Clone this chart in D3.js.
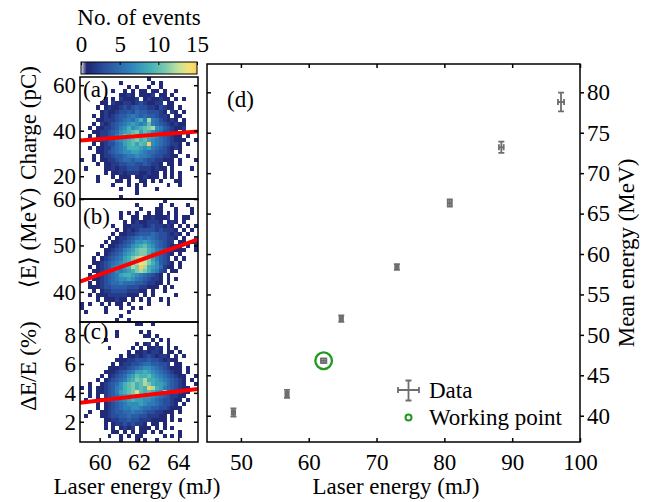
<!DOCTYPE html>
<html lang="en">
<head>
<meta charset="utf-8">
<title>Laser energy scan</title>
<script src="https://d3js.org/d3.v7.min.js"></script>
<style>
  body { margin: 0; background: #fff; }
  svg text { font-family: "Liberation Serif", "Times New Roman", Times, "DejaVu Serif", serif !important; }
</style>
</head>
<body>
<script>
// 2D histograms, 30 x 30 bins, top row first; '.' = 0, hex digit = count
const gridCharge = [
  ".......... .......1.. ..........",
  ".......... 1.......1. 1.........",
  ".......... ..1.1..1.. 1.........",
  "........1. .1.1.11.11 .1..1.....",
  ".......... 1121.1112. 11.1......",
  "......1.1. 21112.1211 211.1.1...",
  ".....11.21 1221232112 2.11......",
  "....1.1211 2323433221 3211.1....",
  ".....12112 3343544333 21.21.1...",
  "...1.12123 4456545443 221.11....",
  "....112223 4565796c65 32121.1...",
  "...1.21234 5678767a65 4321211...",
  "..1.112234 679789abc7 6432112...",
  "...1122345 789ab8a976 53321.1...",
  "..1.122346 8a9c99a987 543211.1..",
  "...1122346 789ab9a876 5432111..1",
  "...1.12335 689a8a9f76 543221.1..",
  "..1.112245 6799987865 432121....",
  "....112345 6778876554 3321.1....",
  "...1.12234 4566766543 32211..1..",
  "1..1.11223 4554554332 2111.1...1",
  "....1.1122 3344334322 1.11.1....",
  ".1....1121 2233322212 11.1....1.",
  "......1.11 2122211211 .1.1.1....",
  "....1...1. 111.112111 .1.1.1....",
  "....1....1 1.1..11.1. 1...11....",
  "........1. ..1.1.1... ..1..1....",
  ".......... 1...1....1 ..........",
  ".......... ....1..... ..........",
  ".......... 1......... .........."
];
const gridEnergy = [
  ".......... .......... .1........",
  ".......... ....1..... 1..1...1..",
  ".......... .....1...1 1...1...1.",
  ".......... 1.1.1..1.1 1.1.1...1.",
  ".......... 1..11.1121 112.1.11..",
  ".......... .1.1211222 1.121.1...",
  "........1. .112221232 2121.1.1.1",
  ".........1 .121233332 32221.1.1.",
  "........1. 1122344454 332121.1..",
  ".......1.1 2234565654 33221.1..1",
  "......1.11 2345778765 4322.11.11",
  ".....1.112 345789a875 432121.1.1",
  "......1123 4678abb986 5432111..1",
  "....1.1234 5789abb976 4321.1....",
  "...1.12345 689bcdcb86 432.1.1...",
  "...1123456 789bcedb97 4321.1....",
  "..1.123467 789cbfc987 5211.1....",
  "...1123457 6789bcb976 32.11.....",
  "..1.123456 8998765432 1.1.......",
  "...1123456 7787654322 1.1.1.....",
  "..1.123455 6555443221 1.1.......",
  "..11123344 4433322111 .1.1......",
  "...1.12233 3322211.1. .1........",
  "..1.111222 22111.1.1. ....1.....",
  "....1.1112 11.1.1.1.. 1.1.......",
  "1.1..1.1.1 1.1....1.. ..1.......",
  "1.....1... 1..1.1.... ..........",
  ".1....1... ..1....... ..........",
  ".......... 1......... ..........",
  ".........1 ..1....... .........."
];
const gridSpread = [
  ".......... ....11..1. ..........",
  ".......... .......... ..........",
  ".........1 .....1.1.. ..........",
  ".........1 ......11.1 ..........",
  "......1... ........1. 1.1.......",
  ".......... ....1.12.1 ..1.......",
  ".......1.. ...1.1.112 1.1.1.....",
  ".......... ..1.112122 1.11.1....",
  ".......... 1.11212321 221.1.1...",
  ".........1 1122333433 21211.....",
  "........1. 1223345544 332.11....",
  ".......111 2234567765 432111.1..",
  "......1112 3456889876 543211.1..",
  ".....1.123 4578a99a87 6543211..1",
  "....1.1234 5689bac998 7654321.1.",
  "..1..12345 79ab9acb98 8754321..1",
  "1.1.112346 79ab9a9fc9 86543211..",
  "..1.112346 89abda9a98 7c543211..",
  "..1.1.2345 789a998876 5432211...",
  ".1..112345 6789887765 433211.1..",
  "....1.1234 5677787665 43321.1...",
  "....1.1234 5667765544 332111....",
  "..1..11234 4556554332 2111.1....",
  ".1...11233 4454433222 11.1......",
  "......1122 3343322211 11.1.1....",
  "......1.12 2323221.11 .1........",
  "......1.1. 1212.111.1 .1.1......",
  "........11 .1.1.11.1. 1....1....",
  ".......1.. 1.1.11.... .1.1.1....",
  ".......... 1...1.1..1 .........."
];

// linear fits, value at 59 mJ and at 65 mJ
const fitCharge = [35.7, 39.7];
const fitEnergy = [42.2, 51.3];
const fitSpread = [3.32, 4.26];

// scan of mean energy vs laser energy
const laserEnergy = [48.9, 56.8, 62.2, 64.8, 73.0, 80.8, 88.4, 97.2];
const laserEnergyErr = [0.25, 0.25, 0.4, 0.25, 0.25, 0.3, 0.35, 0.45];
const meanEnergy = [40.4, 42.7, 46.8, 52.0, 58.4, 66.3, 73.2, 78.8];
const meanEnergyErr = [0.5, 0.5, 0.3, 0.4, 0.35, 0.45, 0.7, 1.15];
const workingPoint = 2;

// tick labels
const histXTicks = [60, 62, 64];
const chargeTicks = [20, 40, 60];
const energyTicks = [40, 50, 60];
const spreadTicks = [2, 4, 6, 8];
const countTicks = [0, 5, 10, 15];
const scanXTicks = [50, 60, 70, 80, 90, 100];
const scanYTicks = [40, 45, 50, 55, 60, 65, 70, 75, 80];

const font = '"Liberation Serif", "Times New Roman", "DejaVu Serif", serif';
const fontSize = 23;
const nBins = 30;
const fmt = d3.format("d");

const svg = d3.select("body").append("svg")
  .attr("width", 667)
  .attr("height", 502)
  .attr("font-family", font)
  .attr("font-size", fontSize);

const color = d3.scaleLinear()
  .domain([0, 0.7, 3, 6.5, 9, 11, 12.5, 14, 15])
  .range(["#dfe2ee", "#1e2570", "#2a4e9e", "#2f84bb", "#44b1b6", "#7fc9ac", "#bfe19c", "#f4e275", "#fbcd5f"])
  .clamp(true);

function parseRow(s) {
  const t = (s.replace(/\s/g, "") + ".".repeat(nBins)).slice(0, nBins);
  return t.split("").map(ch => ch === "." ? 0 : parseInt(ch, 16));
}

function styleAxis(g) {
  g.select(".domain").remove();
  g.attr("font-family", font).attr("font-size", fontSize);
  g.selectAll(".tick line").attr("stroke-width", 1.5);
}

// ---------- colour bar ----------
const cbScale = d3.scaleLinear().domain([0, 15]).range([81, 197]);
const grad = svg.append("defs").append("linearGradient")
  .attr("id", "cb").attr("x1", 0).attr("x2", 1).attr("y1", 0).attr("y2", 0);
d3.range(0, 15.01, 0.25).forEach(v => {
  grad.append("stop").attr("offset", v / 15).attr("stop-color", color(v));
});
svg.append("rect")
  .attr("x", cbScale(0)).attr("y", 62)
  .attr("width", cbScale(15) - cbScale(0)).attr("height", 12)
  .attr("fill", "url(#cb)")
  .attr("stroke", "#000").attr("stroke-width", 1);
svg.append("g")
  .attr("transform", "translate(0,62)")
  .call(d3.axisTop(cbScale).tickValues(countTicks).tickFormat(fmt).tickSize(-3).tickPadding(10))
  .call(styleAxis)
  .call(g => g.selectAll(".tick line").attr("stroke-width", 1));
svg.append("text")
  .attr("x", 139).attr("y", 25)
  .attr("text-anchor", "middle")
  .text("No. of events");

// ---------- histogram panels ----------
const xHist = d3.scaleLinear().domain([59, 65]).range([80, 198]);
const binW = (65 - 59) / nBins;

const panels = [
  {grid: gridCharge, domain: [10, 63.6], top: 77, bottom: 199, ticks: chargeTicks, fit: fitCharge,
   tag: "(a)", tagY: 97, title: "Charge (pC)", titleY: 123},
  {grid: gridEnergy, domain: [33.5, 60], top: 199, bottom: 322, ticks: energyTicks, fit: fitEnergy,
   tag: "(b)", tagY: 224, title: "\u27E8E\u27E9 (MeV)", titleY: 238},
  {grid: gridSpread, domain: [0.6, 8.9], top: 322, bottom: 442, ticks: spreadTicks, fit: fitSpread,
   tag: "(c)", tagY: 339, title: "\u0394E/E (%)", titleY: 366}
];

panels.forEach((p, i) => {
  const y = d3.scaleLinear().domain(p.domain).range([p.bottom, p.top]);
  const binH = (p.domain[1] - p.domain[0]) / nBins;
  const cells = [];
  p.grid.map(parseRow).forEach((row, r) => row.forEach((v, c) => {
    if (v > 0) cells.push({r: r, c: c, v: v});
  }));

  const g = svg.append("g").attr("class", "hist");

  g.append("clipPath").attr("id", "clip" + i)
    .append("rect")
    .attr("x", xHist(59)).attr("y", p.top)
    .attr("width", xHist(65) - xHist(59)).attr("height", p.bottom - p.top);

  g.append("g")
    .attr("shape-rendering", "crispEdges")
    .selectAll("rect")
    .data(cells)
    .join("rect")
    .attr("x", d => xHist(59 + d.c * binW))
    .attr("y", d => y(p.domain[1] - d.r * binH))
    .attr("width", d => xHist(59 + (d.c + 1) * binW) - xHist(59 + d.c * binW))
    .attr("height", d => y(p.domain[1] - (d.r + 1) * binH) - y(p.domain[1] - d.r * binH))
    .attr("fill", d => color(d.v));

  g.append("line")
    .attr("clip-path", "url(#clip" + i + ")")
    .attr("x1", xHist(59)).attr("y1", y(p.fit[0]))
    .attr("x2", xHist(65)).attr("y2", y(p.fit[1]))
    .attr("stroke", "#ff0000")
    .attr("stroke-width", 4);

  g.append("g")
    .attr("transform", "translate(" + xHist(59) + ",0)")
    .call(d3.axisLeft(y).tickValues(p.ticks).tickFormat(fmt).tickSize(-4).tickPadding(4))
    .call(styleAxis);
  g.append("g")
    .attr("transform", "translate(" + xHist(65) + ",0)")
    .call(d3.axisRight(y).tickValues(p.ticks).tickSize(-4).tickFormat(""))
    .call(styleAxis);

  if (i === panels.length - 1) {
    g.append("g")
      .attr("transform", "translate(0," + p.bottom + ")")
      .call(d3.axisBottom(xHist).tickValues(histXTicks).tickFormat(fmt).tickSize(-4).tickPadding(11.5))
      .call(styleAxis);
  }

  g.append("rect")
    .attr("x", xHist(59)).attr("y", p.top)
    .attr("width", xHist(65) - xHist(59)).attr("height", p.bottom - p.top)
    .attr("fill", "none").attr("stroke", "#000").attr("stroke-width", 1.5);

  g.append("text")
    .attr("x", 83).attr("y", p.tagY)
    .text(p.tag);

  svg.append("text")
    .attr("transform", "translate(35.5," + p.titleY + ") rotate(-90)")
    .attr("text-anchor", "middle")
    .text(p.title);
});

svg.append("text")
  .attr("x", 137).attr("y", 494)
  .attr("text-anchor", "middle")
  .text("Laser energy (mJ)");

// ---------- scan panel (d) ----------
const xD = d3.scaleLinear().domain([45, 100]).range([207, 580]);
const yD = d3.scaleLinear().domain([36.75, 83.5]).range([442, 64]);

svg.append("g")
  .attr("transform", "translate(0,442)")
  .call(d3.axisBottom(xD).tickValues(scanXTicks).tickFormat(fmt).tickSize(-4).tickPadding(11.5))
  .call(styleAxis);
svg.append("g")
  .attr("transform", "translate(0,64)")
  .call(d3.axisTop(xD).tickValues(scanXTicks).tickSize(-4).tickFormat(""))
  .call(styleAxis);
svg.append("g")
  .attr("transform", "translate(207,0)")
  .call(d3.axisLeft(yD).tickValues(scanYTicks).tickSize(-4).tickFormat(""))
  .call(styleAxis);
svg.append("g")
  .attr("transform", "translate(580,0)")
  .call(d3.axisRight(yD).tickValues(scanYTicks).tickFormat(fmt).tickSize(4).tickPadding(3))
  .call(styleAxis);

svg.append("rect")
  .attr("x", 207).attr("y", 64)
  .attr("width", 373).attr("height", 378)
  .attr("fill", "none").attr("stroke", "#000").attr("stroke-width", 1.5);

const scan = laserEnergy.map((l, i) => ({
  l: l, le: laserEnergyErr[i], m: meanEnergy[i], me: meanEnergyErr[i]
}));
const cap = 3;
const errColor = "#6e6e6e";

const bars = svg.append("g")
  .attr("class", "errorbars")
  .attr("stroke", errColor)
  .attr("stroke-width", 1.8)
  .selectAll("g")
  .data(scan)
  .join("g");
bars.append("path")
  .attr("fill", "none")
  .attr("d", d => {
    const x = xD(d.l), y = yD(d.m);
    const y0 = yD(d.m - d.me), y1 = yD(d.m + d.me);
    const x0 = xD(d.l - d.le), x1 = xD(d.l + d.le);
    return "M" + x + "," + y0 + "V" + y1 +
      "M" + (x - cap) + "," + y0 + "H" + (x + cap) +
      "M" + (x - cap) + "," + y1 + "H" + (x + cap) +
      "M" + x0 + "," + y + "H" + x1 +
      "M" + x0 + "," + (y - cap) + "V" + (y + cap) +
      "M" + x1 + "," + (y - cap) + "V" + (y + cap);
  });

svg.append("circle")
  .attr("cx", xD(laserEnergy[workingPoint]))
  .attr("cy", yD(meanEnergy[workingPoint]))
  .attr("r", 8.3)
  .attr("fill", "none")
  .attr("stroke", "#1f9a1f")
  .attr("stroke-width", 2.3);

svg.append("text")
  .attr("x", 227).attr("y", 107)
  .text("(d)");

// legend
const legend = svg.append("g").attr("class", "legend");
legend.append("path")
  .attr("fill", "none")
  .attr("stroke", errColor)
  .attr("stroke-width", 1.8)
  .attr("d", "M398,390H419M398,387V393M419,387V393M408.5,380.5V400.5M405.5,380.5H411.5M405.5,400.5H411.5");
legend.append("text").attr("x", 429).attr("y", 398).text("Data");
legend.append("circle")
  .attr("cx", 408.5).attr("cy", 417.5).attr("r", 3)
  .attr("fill", "none").attr("stroke", "#1f9a1f").attr("stroke-width", 2);
legend.append("text").attr("x", 429).attr("y", 425).text("Working point");

svg.append("text")
  .attr("x", 396).attr("y", 494)
  .attr("text-anchor", "middle")
  .text("Laser energy (mJ)");

svg.append("text")
  .attr("transform", "translate(634,253) rotate(-90)")
  .attr("text-anchor", "middle")
  .text("Mean energy (MeV)");
</script>
</body>
</html>
